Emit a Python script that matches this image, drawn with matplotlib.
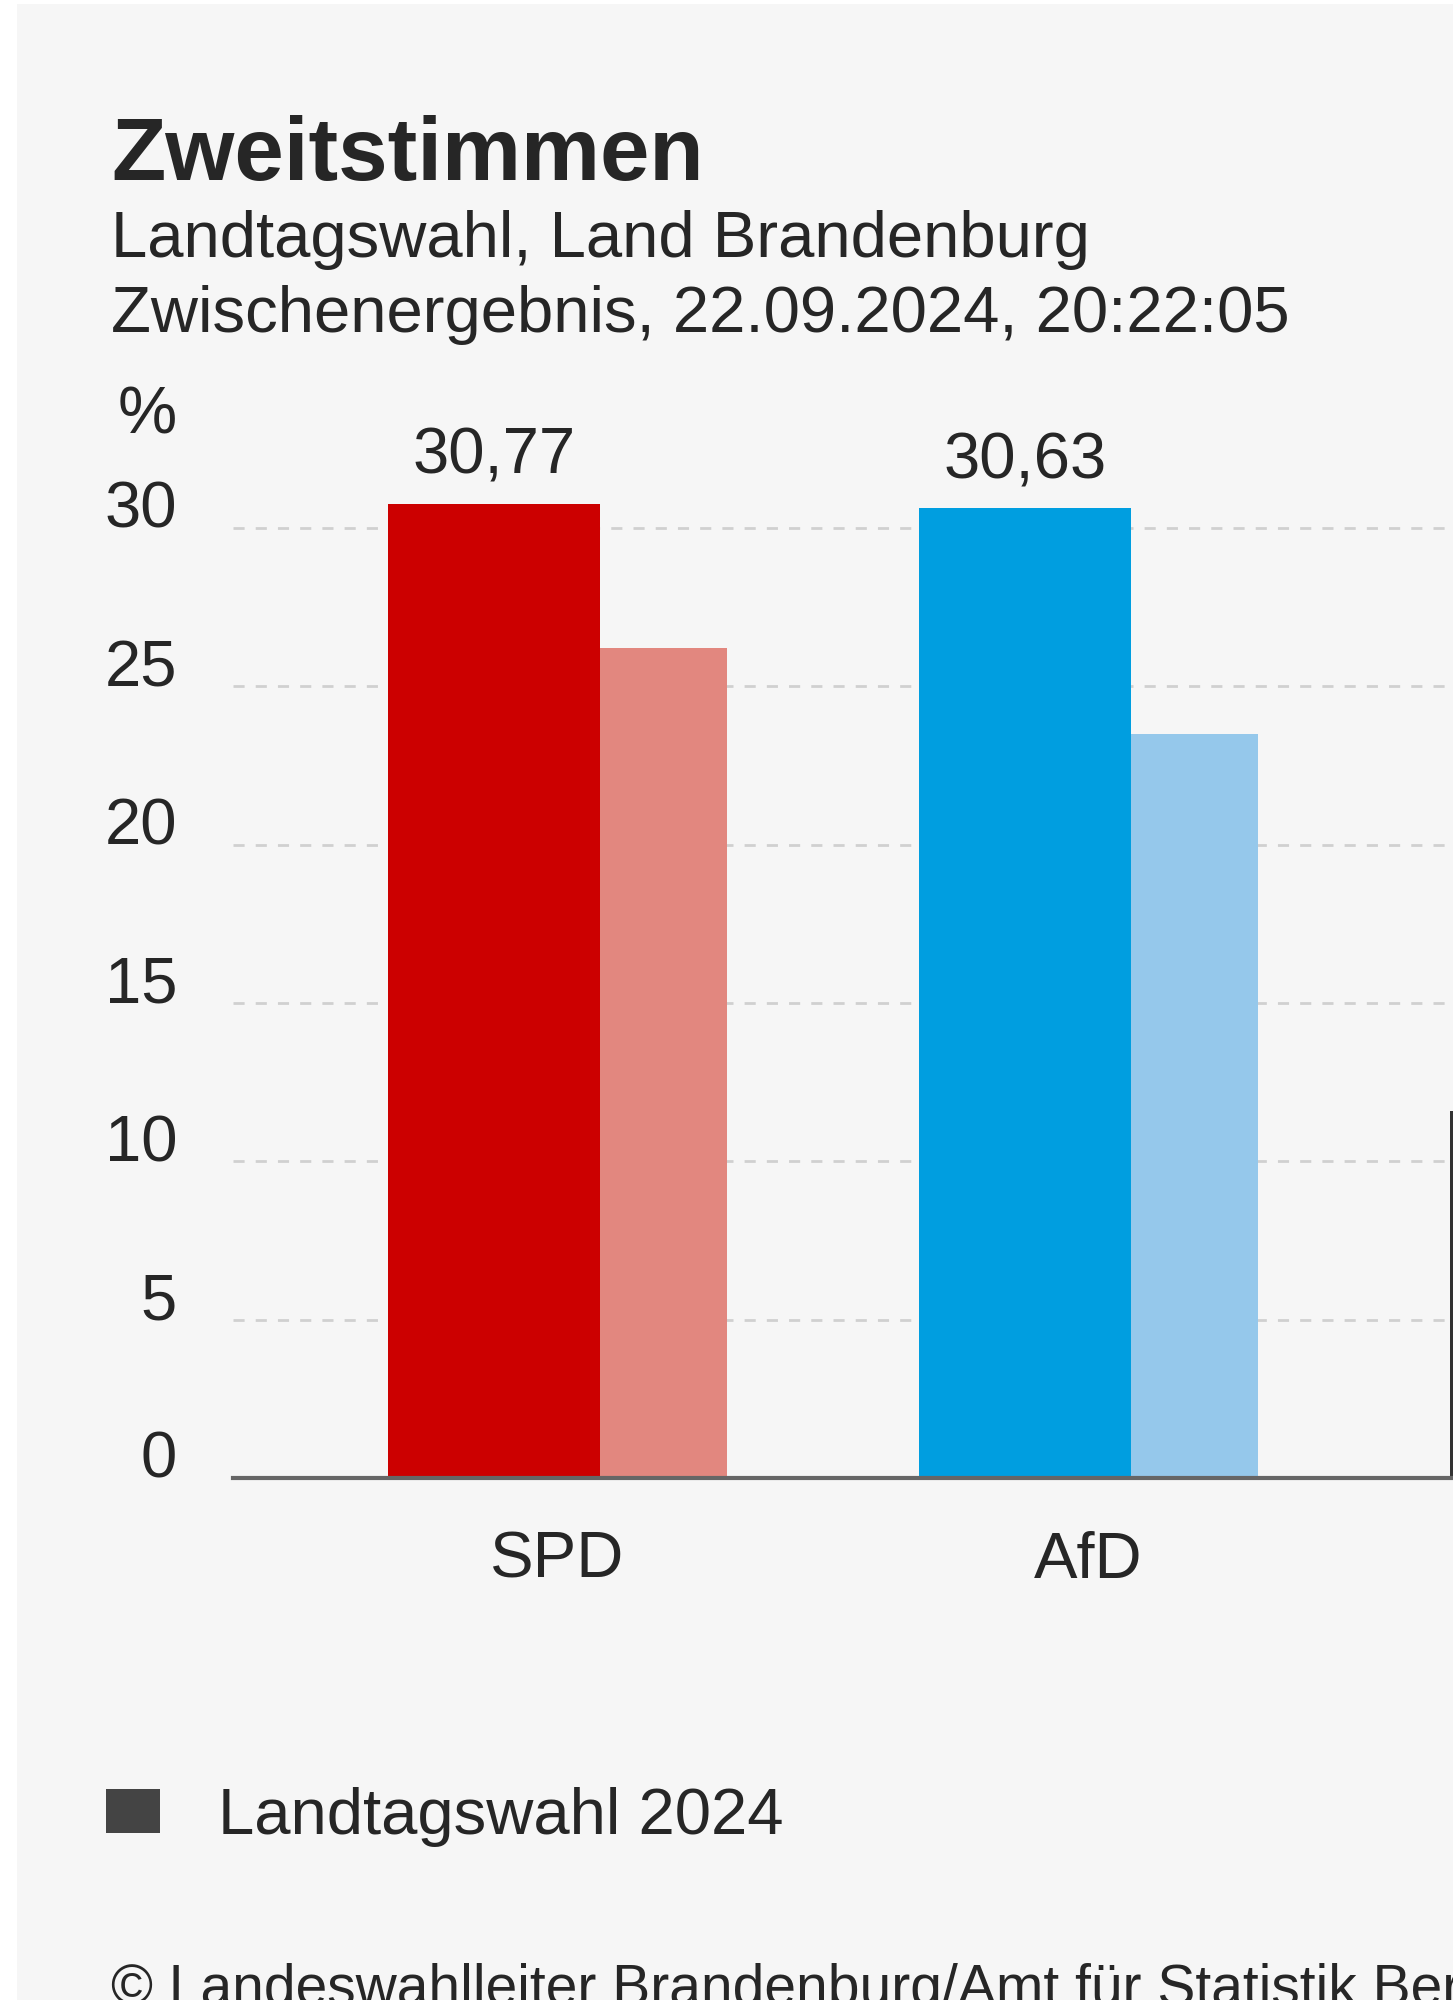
import matplotlib
matplotlib.use('Agg')
import matplotlib.pyplot as plt
from matplotlib.patches import Patch, Rectangle

# Daten
parteien = ['SPD', 'AfD', 'CDU']
werte_2024 = [30.77, 30.63, 11.6]
werte_2019 = [26.2, 23.5, 15.6]
farben_2024 = ['#cc0000', '#009ee0', '#333333']
farben_2019 = ['#e2877f', '#95c8eb', '#999999']
y_ticks = [0, 5, 10, 15, 20, 25, 30]

plt.rcParams['font.family'] = ['Liberation Sans', 'DejaVu Sans']
text_farbe = '#262626'

W, H = 1453, 2000
fx = lambda px: px / W
fy = lambda py: 1 - py / H

fig = plt.figure(figsize=(W / 100, H / 100), dpi=100, facecolor='white')
# grauer Hintergrund mit weissem Rand links/oben
fig.patches.append(Rectangle((fx(17), 0), 1 - fx(17), fy(4), transform=fig.transFigure,
                             facecolor='#f6f6f6', edgecolor='none', zorder=-10))

# Titel
fig.text(fx(111), fy(180), 'Zweitstimmen', fontsize=64, fontweight='bold',
         color=text_farbe, va='baseline')
fig.text(fx(111), fy(257), 'Landtagswahl, Land Brandenburg', fontsize=47,
         color=text_farbe, va='baseline')
fig.text(fx(111), fy(332), 'Zwischenergebnis, 22.09.2024, 20:22:05', fontsize=47,
         color=text_farbe, va='baseline')
fig.text(fx(177), fy(433), '%', fontsize=48, color=text_farbe, va='baseline', ha='right')

# Diagramm (rechts abgeschnitten, wie im Original)
ax = fig.add_axes([fx(233), fy(1478), 1 - fx(233), 33 * 31.667 / H])
ax.patch.set_alpha(0)
x = list(range(len(parteien)))
ax.bar([i - 0.12 for i in x], werte_2024, width=0.4, color=farben_2024, zorder=2)
ax.bar([i + 0.2 for i in x], werte_2019, width=0.24, color=farben_2019, zorder=2)

for i, v in enumerate(werte_2024):
    ax.annotate(f'{v:.2f}'.replace('.', ','), (i - 0.12, v), xytext=(0, 21.6),
                textcoords='offset points', ha='center', va='baseline',
                fontsize=47, color=text_farbe)

ax.set_yticks(y_ticks)
ax.set_yticklabels([str(t) for t in y_ticks])
ax.set_xticks(x)
ax.set_xticklabels(parteien)
ax.set_xlim(-0.6111, 1.6864)
ax.set_ylim(0, 33)
ax.tick_params(axis='y', length=0, pad=40.3, labelsize=47, labelcolor=text_farbe)
ax.tick_params(axis='x', length=0, pad=72, labelsize=47, labelcolor=text_farbe)
for lbl in ax.get_yticklabels() + ax.get_xticklabels():
    lbl.set_va('baseline')

ax.set_axisbelow(True)
ax.yaxis.grid(True, color='#d0d0d0', linewidth=2, dashes=(4, 4))
for s in ['top', 'right', 'left']:
    ax.spines[s].set_visible(False)
ax.spines['bottom'].set_color('#666666')
ax.spines['bottom'].set_linewidth(3)
ax.spines['bottom'].set_zorder(3)

# Legende
fig.legend(handles=[Patch(facecolor='#444444', label='Landtagswahl 2024')],
           loc='lower left', bbox_to_anchor=(fx(106), fy(1847)), frameon=False,
           borderpad=0, borderaxespad=0, handlelength=0.83, handleheight=0.64,
           handletextpad=0.89, fontsize=47, labelcolor=text_farbe)

# Quelle (unten abgeschnitten)
fig.text(fx(111), fy(2005), '© Landeswahlleiter Brandenburg/Amt für Statistik Berlin-Brandenburg',
         fontsize=41, color=text_farbe, va='baseline')

fig.savefig('out.png', dpi=100, facecolor=fig.get_facecolor())
